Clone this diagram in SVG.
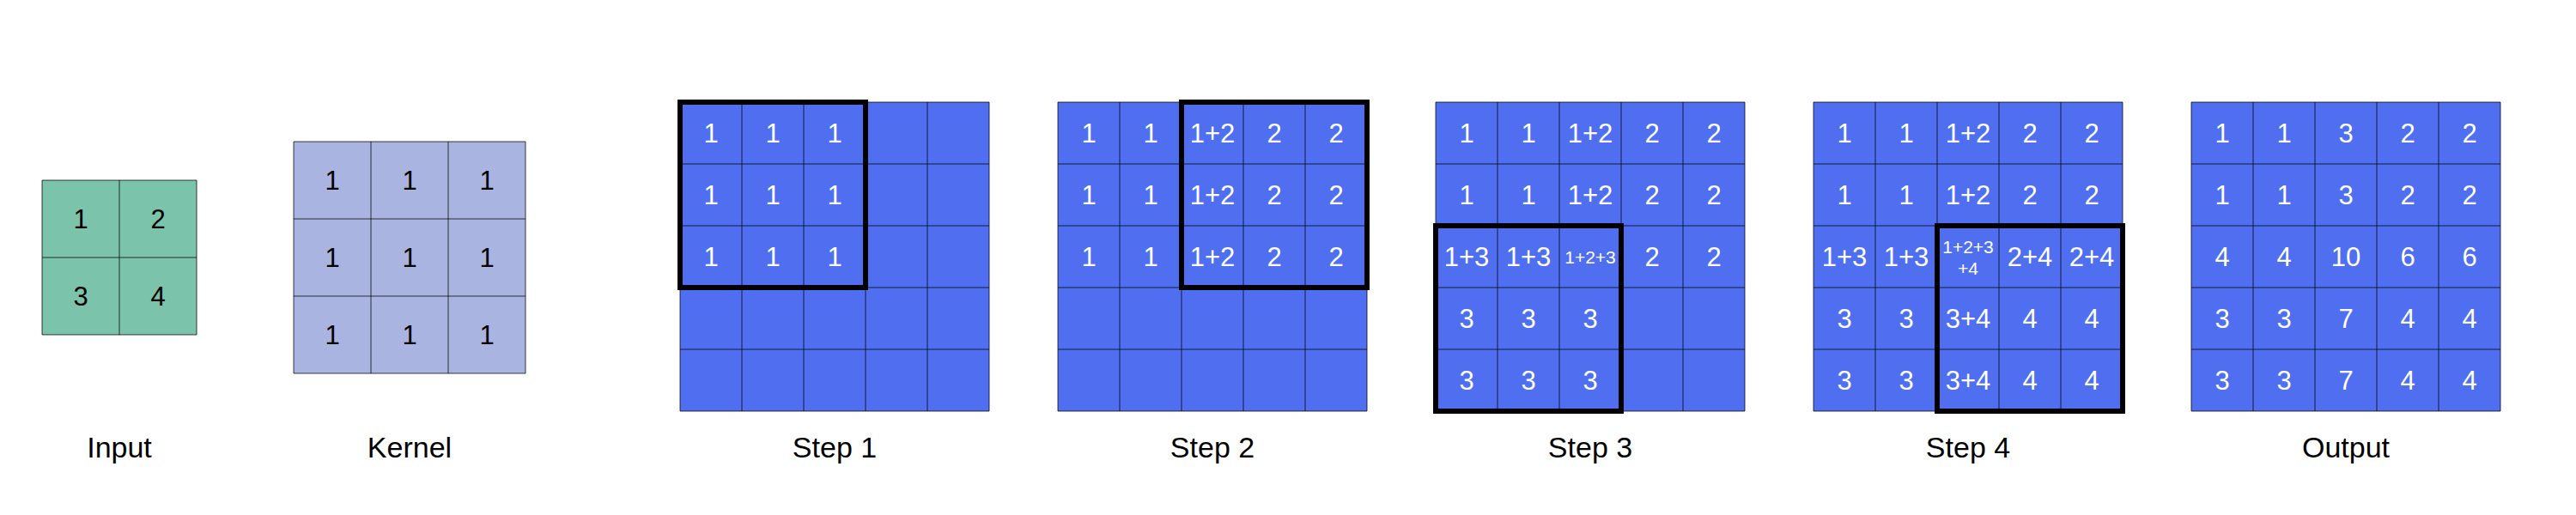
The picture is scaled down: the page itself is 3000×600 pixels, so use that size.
<svg xmlns="http://www.w3.org/2000/svg" xmlns:xlink="http://www.w3.org/1999/xlink" width="3000" height="600" viewBox="0 0 3000 600">
<style>
  text { font-family: "Liberation Sans", Arial, Helvetica, sans-serif; text-anchor: middle; }
  .lbl { font-size: 34px; fill: #000; }
  .n { font-size: 31px; fill: #000; }
  .w { font-size: 31px; fill: #fff; }
  .ws { font-size: 21px; fill: #fff; }
  .grid { stroke: #000; stroke-opacity: 0.75; stroke-width: 1; fill: none; }
  .frame { stroke: #000; stroke-width: 6; fill: none; }
  .blue { fill: #4f6ff0; }
</style>
<defs>
  <g id="g5">
    <rect class="blue" x="0" y="0" width="360" height="360"/>
    <path class="grid" d="M0 0H360M0 72H360M0 144H360M0 216H360M0 288H360M0 360H360M0 0V360M72 0V360M144 0V360M216 0V360M288 0V360M360 0V360"/>
  </g>
</defs>
<rect width="3000" height="600" fill="#fff"/>

<g id="input">
  <rect x="49" y="210" width="180" height="180" fill="#7cc3ac"/>
  <path class="grid" d="M49 210H229M49 300H229M49 390H229M49 210V390M139 210V390M229 210V390"/>
  <text class="n" x="94" y="266">1</text>
  <text class="n" x="184" y="266">2</text>
  <text class="n" x="94" y="356">3</text>
  <text class="n" x="184" y="356">4</text>
  <text class="lbl" x="139" y="533">Input</text>
</g>

<g id="kernel">
  <rect x="342" y="165" width="270" height="270" fill="#a9b4e1"/>
  <path class="grid" d="M342 165H612M342 255H612M342 345H612M342 435H612M342 165V435M432 165V435M522 165V435M612 165V435"/>
  <text class="n" x="387" y="221">1</text><text class="n" x="477" y="221">1</text><text class="n" x="567" y="221">1</text>
  <text class="n" x="387" y="311">1</text><text class="n" x="477" y="311">1</text><text class="n" x="567" y="311">1</text>
  <text class="n" x="387" y="401">1</text><text class="n" x="477" y="401">1</text><text class="n" x="567" y="401">1</text>
  <text class="lbl" x="477" y="533">Kernel</text>
</g>

<g id="step1">
  <use xlink:href="#g5" href="#g5" x="792" y="119"/>
  <text class="w" x="828" y="166">1</text><text class="w" x="900" y="166">1</text><text class="w" x="972" y="166">1</text>
  <text class="w" x="828" y="238">1</text><text class="w" x="900" y="238">1</text><text class="w" x="972" y="238">1</text>
  <text class="w" x="828" y="310">1</text><text class="w" x="900" y="310">1</text><text class="w" x="972" y="310">1</text>
  <rect class="frame" x="792" y="119" width="216" height="216"/>
  <text class="lbl" x="972" y="533">Step 1</text>
</g>

<g id="step2">
  <use xlink:href="#g5" href="#g5" x="1232" y="119"/>
  <text class="w" x="1268" y="166">1</text><text class="w" x="1340" y="166">1</text><text class="w" x="1412" y="166">1+2</text><text class="w" x="1484" y="166">2</text><text class="w" x="1556" y="166">2</text>
  <text class="w" x="1268" y="238">1</text><text class="w" x="1340" y="238">1</text><text class="w" x="1412" y="238">1+2</text><text class="w" x="1484" y="238">2</text><text class="w" x="1556" y="238">2</text>
  <text class="w" x="1268" y="310">1</text><text class="w" x="1340" y="310">1</text><text class="w" x="1412" y="310">1+2</text><text class="w" x="1484" y="310">2</text><text class="w" x="1556" y="310">2</text>
  <rect class="frame" x="1376" y="119" width="216" height="216"/>
  <text class="lbl" x="1412" y="533">Step 2</text>
</g>

<g id="step3">
  <use xlink:href="#g5" href="#g5" x="1672" y="119"/>
  <text class="w" x="1708" y="166">1</text><text class="w" x="1780" y="166">1</text><text class="w" x="1852" y="166">1+2</text><text class="w" x="1924" y="166">2</text><text class="w" x="1996" y="166">2</text>
  <text class="w" x="1708" y="238">1</text><text class="w" x="1780" y="238">1</text><text class="w" x="1852" y="238">1+2</text><text class="w" x="1924" y="238">2</text><text class="w" x="1996" y="238">2</text>
  <text class="w" x="1708" y="310">1+3</text><text class="w" x="1780" y="310">1+3</text><text class="ws" x="1852" y="306.5">1+2+3</text><text class="w" x="1924" y="310">2</text><text class="w" x="1996" y="310">2</text>
  <text class="w" x="1708" y="382">3</text><text class="w" x="1780" y="382">3</text><text class="w" x="1852" y="382">3</text>
  <text class="w" x="1708" y="454">3</text><text class="w" x="1780" y="454">3</text><text class="w" x="1852" y="454">3</text>
  <rect class="frame" x="1672" y="263" width="216" height="216"/>
  <text class="lbl" x="1852" y="533">Step 3</text>
</g>

<g id="step4">
  <use xlink:href="#g5" href="#g5" x="2112" y="119"/>
  <text class="w" x="2148" y="166">1</text><text class="w" x="2220" y="166">1</text><text class="w" x="2292" y="166">1+2</text><text class="w" x="2364" y="166">2</text><text class="w" x="2436" y="166">2</text>
  <text class="w" x="2148" y="238">1</text><text class="w" x="2220" y="238">1</text><text class="w" x="2292" y="238">1+2</text><text class="w" x="2364" y="238">2</text><text class="w" x="2436" y="238">2</text>
  <text class="w" x="2148" y="310">1+3</text><text class="w" x="2220" y="310">1+3</text><text class="ws" x="2292" y="295">1+2+3</text><text class="ws" x="2292" y="320">+4</text><text class="w" x="2364" y="310">2+4</text><text class="w" x="2436" y="310">2+4</text>
  <text class="w" x="2148" y="382">3</text><text class="w" x="2220" y="382">3</text><text class="w" x="2292" y="382">3+4</text><text class="w" x="2364" y="382">4</text><text class="w" x="2436" y="382">4</text>
  <text class="w" x="2148" y="454">3</text><text class="w" x="2220" y="454">3</text><text class="w" x="2292" y="454">3+4</text><text class="w" x="2364" y="454">4</text><text class="w" x="2436" y="454">4</text>
  <rect class="frame" x="2256" y="263" width="216" height="216"/>
  <text class="lbl" x="2292" y="533">Step 4</text>
</g>

<g id="output">
  <use xlink:href="#g5" href="#g5" x="2552" y="119"/>
  <text class="w" x="2588" y="166">1</text><text class="w" x="2660" y="166">1</text><text class="w" x="2732" y="166">3</text><text class="w" x="2804" y="166">2</text><text class="w" x="2876" y="166">2</text>
  <text class="w" x="2588" y="238">1</text><text class="w" x="2660" y="238">1</text><text class="w" x="2732" y="238">3</text><text class="w" x="2804" y="238">2</text><text class="w" x="2876" y="238">2</text>
  <text class="w" x="2588" y="310">4</text><text class="w" x="2660" y="310">4</text><text class="w" x="2732" y="310">10</text><text class="w" x="2804" y="310">6</text><text class="w" x="2876" y="310">6</text>
  <text class="w" x="2588" y="382">3</text><text class="w" x="2660" y="382">3</text><text class="w" x="2732" y="382">7</text><text class="w" x="2804" y="382">4</text><text class="w" x="2876" y="382">4</text>
  <text class="w" x="2588" y="454">3</text><text class="w" x="2660" y="454">3</text><text class="w" x="2732" y="454">7</text><text class="w" x="2804" y="454">4</text><text class="w" x="2876" y="454">4</text>
  <text class="lbl" x="2732" y="533">Output</text>
</g>

<g id="connectors"></g>
</svg>
